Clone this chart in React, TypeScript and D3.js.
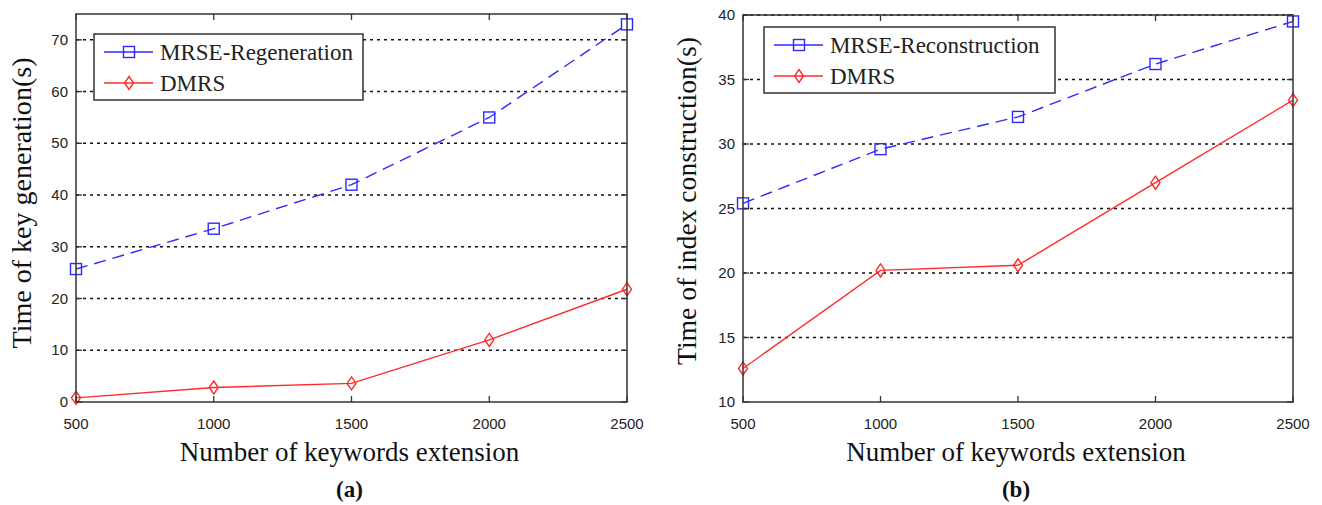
import React, { useEffect, useRef } from 'react';
import * as d3 from 'd3';

// keyword extension counts (x axis)
const keywordCounts = [500, 1000, 1500, 2000, 2500];

// panel (a): key generation time (s)
const mrseRegeneration = [25.7, 33.5, 42.0, 55.0, 73.0];
const dmrsKeyGen = [0.8, 2.8, 3.6, 12.0, 21.8];
const yTicksA = [0, 10, 20, 30, 40, 50, 60, 70];

// panel (b): index construction time (s)
const mrseReconstruction = [25.4, 29.6, 32.1, 36.2, 39.5];
const dmrsIndex = [12.6, 20.2, 20.6, 27.0, 33.4];
const yTicksB = [10, 15, 20, 25, 30, 35, 40];

const BLUE = '#2b2bff';
const RED = '#ff2b2b';
const SERIF = '"Liberation Serif", "Times New Roman", serif';
const SANS = '"Liberation Sans", Arial, sans-serif';

const App = () => {
  const svgRef = useRef<SVGSVGElement>(null);

  useEffect(() => {
    const svg = d3.select(svgRef.current);
    svg.selectAll('*').remove();

    const panels = [
      {
        box: { left: 76, right: 627, top: 14, bottom: 402 },
        yDomain: [0, 75], yTicks: yTicksA,
        ytitle: 'Time of key generation(s)', ytitleX: 31, ytitleY: 203, ytitleLen: 291,
        caption: '(a)',
        series: [
          { name: 'MRSE-Regeneration', values: mrseRegeneration, color: BLUE, marker: 'square', dash: '12,7' },
          { name: 'DMRS', values: dmrsKeyGen, color: RED, marker: 'diamond', dash: null },
        ],
        legend: { x: 94, y: 34, w: 269, h: 66 },
      },
      {
        box: { left: 743, right: 1293, top: 15, bottom: 402 },
        yDomain: [10, 40], yTicks: yTicksB,
        ytitle: 'Time of index construction(s)', ytitleX: 696, ytitleY: 201, ytitleLen: 328,
        caption: '(b)',
        series: [
          { name: 'MRSE-Reconstruction', values: mrseReconstruction, color: BLUE, marker: 'square', dash: '12,7' },
          { name: 'DMRS', values: dmrsIndex, color: RED, marker: 'diamond', dash: null },
        ],
        legend: { x: 764, y: 27, w: 291, h: 66 },
      },
    ];

    const drawMarker = (g, type, cx, cy, color) => {
      if (type === 'square') {
        g.append('rect')
          .attr('x', cx - 5.5).attr('y', cy - 5.5)
          .attr('width', 11).attr('height', 11)
          .attr('fill', 'none').attr('stroke', color).attr('stroke-width', 1.4);
      } else {
        g.append('path')
          .attr('d', `M${cx},${cy - 6.5}L${cx + 4.5},${cy}L${cx},${cy + 6.5}L${cx - 4.5},${cy}Z`)
          .attr('fill', 'none').attr('stroke', color).attr('stroke-width', 1.4);
      }
    };

    panels.forEach(p => {
      const { box } = p;
      const x = d3.scaleLinear().domain([500, 2500]).range([box.left, box.right]);
      const y = d3.scaleLinear().domain(p.yDomain).range([box.bottom, box.top]);
      const g = svg.append('g');

      // horizontal dashed grid
      g.selectAll('.grid')
        .data(p.yTicks.filter(t => t !== p.yDomain[0]))
        .enter().append('line')
        .attr('x1', box.left).attr('x2', box.right)
        .attr('y1', d => y(d)).attr('y2', d => y(d))
        .attr('stroke', '#111').attr('stroke-width', 1.5)
        .attr('stroke-dasharray', '3,4');

      // series
      p.series.forEach(s => {
        const line = d3.line<number>()
          .x((d, i) => x(keywordCounts[i]))
          .y(d => y(d));
        g.append('path')
          .attr('d', line(s.values))
          .attr('fill', 'none')
          .attr('stroke', s.color)
          .attr('stroke-width', 1.4)
          .attr('stroke-dasharray', s.dash);
        s.values.forEach((v, i) => drawMarker(g, s.marker, x(keywordCounts[i]), y(v), s.color));
      });

      // axes box
      g.append('rect')
        .attr('x', box.left).attr('y', box.top)
        .attr('width', box.right - box.left).attr('height', box.bottom - box.top)
        .attr('fill', 'none').attr('stroke', '#333').attr('stroke-width', 1.5);

      // x ticks (inner, bottom and top)
      keywordCounts.forEach(k => {
        g.append('line').attr('x1', x(k)).attr('x2', x(k))
          .attr('y1', box.bottom).attr('y2', box.bottom - 6)
          .attr('stroke', '#333').attr('stroke-width', 1.3);
        g.append('line').attr('x1', x(k)).attr('x2', x(k))
          .attr('y1', box.top).attr('y2', box.top + 6)
          .attr('stroke', '#333').attr('stroke-width', 1.3);
        g.append('text')
          .attr('x', x(k)).attr('y', 429)
          .attr('text-anchor', 'middle')
          .style('font-family', SANS).style('font-size', '15px').attr('fill', '#222')
          .text(k);
      });

      // y ticks
      p.yTicks.forEach(t => {
        g.append('line').attr('x1', box.left).attr('x2', box.left + 6)
          .attr('y1', y(t)).attr('y2', y(t))
          .attr('stroke', '#333').attr('stroke-width', 1.3);
        g.append('line').attr('x1', box.right).attr('x2', box.right - 6)
          .attr('y1', y(t)).attr('y2', y(t))
          .attr('stroke', '#333').attr('stroke-width', 1.3);
        g.append('text')
          .attr('x', box.left - 8).attr('y', y(t) + 5)
          .attr('text-anchor', 'end')
          .style('font-family', SANS).style('font-size', '15px').attr('fill', '#222')
          .text(t);
      });

      // legend
      const L = p.legend;
      const lg = g.append('g');
      lg.append('rect')
        .attr('x', L.x).attr('y', L.y).attr('width', L.w).attr('height', L.h)
        .attr('fill', 'white').attr('stroke', '#333').attr('stroke-width', 1.5);
      p.series.forEach((s, i) => {
        const cy = L.y + 18 + i * 31;
        lg.append('line')
          .attr('x1', L.x + 10).attr('x2', L.x + 59)
          .attr('y1', cy).attr('y2', cy)
          .attr('stroke', s.color).attr('stroke-width', 1.4);
        drawMarker(lg, s.marker, L.x + 35, cy, s.color);
        lg.append('text')
          .attr('x', L.x + 66).attr('y', cy + 8)
          .style('font-family', SERIF).style('font-size', '23px').attr('fill', '#222')
          .text(s.name);
      });

      // axis titles
      g.append('text')
        .attr('x', (box.left + box.right) / 2 - 2).attr('y', 461)
        .attr('text-anchor', 'middle')
        .style('font-family', SERIF).style('font-size', '27px').attr('fill', '#111')
        .text('Number of keywords extension');
      g.append('text')
        .attr('transform', `translate(${p.ytitleX},${p.ytitleY}) rotate(-90)`)
        .attr('text-anchor', 'middle')
        .attr('textLength', p.ytitleLen)
        .attr('lengthAdjust', 'spacingAndGlyphs')
        .style('font-family', SERIF).style('font-size', '28px').attr('fill', '#111')
        .text(p.ytitle);

      // caption
      g.append('text')
        .attr('x', (box.left + box.right) / 2 - 2).attr('y', 497)
        .attr('text-anchor', 'middle')
        .style('font-family', SERIF).style('font-size', '23px').style('font-weight', 'bold').attr('fill', '#111')
        .text(p.caption);
    });
  }, []);

  return (
    <svg ref={svgRef} width={1322} height={505}
      style={{ position: 'absolute', left: 0, top: 0, background: 'white' }} />
  );
};

export default App;
